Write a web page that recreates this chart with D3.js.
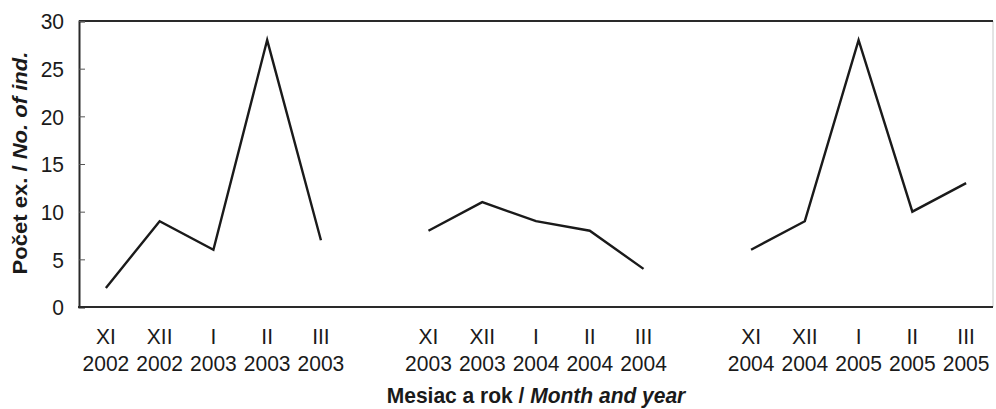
<!DOCTYPE html>
<html>
<head>
<meta charset="utf-8">
<script src="https://cdn.jsdelivr.net/npm/d3@7"></script>
<style>
  html, body { margin: 0; padding: 0; background: #fff; }
  text { font-family: "Liberation Sans", Arial, sans-serif; fill: #1a1a1a; }
</style>
</head>
<body>
<svg id="chart" width="996" height="409"></svg>
<script>
// Months (Roman numerals) and years; empty entries separate the three seasons
const months = ["XI", "XII", "I", "II", "III", "", "XI", "XII", "I", "II", "III", "", "XI", "XII", "I", "II", "III"];
const years  = ["2002", "2002", "2003", "2003", "2003", "", "2003", "2003", "2004", "2004", "2004", "", "2004", "2004", "2005", "2005", "2005"];
// Number of individuals per month, one array per season
const season1 = [2, 9, 6, 28, 7];
const season2 = [8, 11, 9, 8, 4];
const season3 = [6, 9, 28, 10, 13];
const yTicks = [0, 5, 10, 15, 20, 25, 30];

const svg = d3.select("#chart");
const plotL = 79, plotR = 993, plotT = 21, plotB = 307;
const fs = 21;          // label font size
const stretch = 1.05;   // slightly tall lettering

const keys = months.map((m, i) => i);
const x = d3.scaleBand().domain(keys).range([plotL, plotR]);
const y = d3.scaleLinear().domain([0, 30]).range([plotB, plotT]);

// frame
svg.append("line").attr("x1", plotR).attr("x2", plotR).attr("y1", plotT).attr("y2", plotB)
  .attr("stroke", "#c8c8c8").attr("stroke-width", 1);
svg.append("line").attr("x1", plotL).attr("x2", plotR).attr("y1", plotT).attr("y2", plotT)
  .attr("stroke", "#2a2a2a").attr("stroke-width", 2);

// y axis with inward ticks
const yAxis = svg.append("g").attr("transform", `translate(${plotL},0)`)
  .call(d3.axisLeft(y).tickValues(yTicks).tickSize(-6).tickPadding(15));
yAxis.select(".domain").attr("stroke", "#2a2a2a").attr("stroke-width", 2);
yAxis.selectAll(".tick line").attr("stroke", "#555").attr("stroke-width", 1);
yAxis.selectAll(".tick text").remove();
yAxis.selectAll(".tick").append("text")
  .attr("transform", `translate(-15,7.7) scale(1,${stretch})`)
  .attr("text-anchor", "end").attr("font-size", fs)
  .attr("font-family", "Liberation Sans, Arial, sans-serif").attr("fill", "#1a1a1a")
  .text(d => d);

// x axis baseline
svg.append("line").attr("x1", plotL - 1).attr("x2", plotR).attr("y1", plotB).attr("y2", plotB)
  .attr("stroke", "#2a2a2a").attr("stroke-width", 2);

// category labels (two lines)
const xl = svg.append("g");
keys.forEach(i => {
  const cx = x(i) + x.bandwidth() / 2;
  xl.append("text").attr("transform", `translate(${cx},344) scale(1,${stretch})`)
    .attr("text-anchor", "middle").attr("font-size", fs).text(months[i]);
  xl.append("text").attr("transform", `translate(${cx},371) scale(1,${stretch})`)
    .attr("text-anchor", "middle").attr("font-size", fs).text(years[i]);
});

// lines per season
const line = d3.line().x(d => x(d.i) + x.bandwidth() / 2).y(d => y(d.v));
[[season1, 0], [season2, 6], [season3, 12]].forEach(([vals, off]) => {
  svg.append("path")
    .datum(vals.map((v, k) => ({ i: off + k, v })))
    .attr("d", line).attr("fill", "none")
    .attr("stroke", "#1a1a1a").attr("stroke-width", 2.4)
    .attr("stroke-linejoin", "miter");
});

// axis titles
svg.append("text").attr("transform", `translate(${(plotL + plotR) / 2},403) scale(1,${stretch})`)
  .attr("text-anchor", "middle").attr("font-size", fs).attr("font-weight", "bold")
  .call(t => {
    t.append("tspan").text("Mesiac a rok / ");
    t.append("tspan").attr("font-style", "italic").text("Month and year");
  });

svg.append("text").attr("transform", `translate(27,163) rotate(-90) scale(${stretch},1)`)
  .attr("text-anchor", "middle").attr("font-size", fs).attr("font-weight", "bold")
  .call(t => {
    t.append("tspan").text("Počet ex. / ");
    t.append("tspan").attr("font-style", "italic").text("No. of ind.");
  });
</script>
</body>
</html>
